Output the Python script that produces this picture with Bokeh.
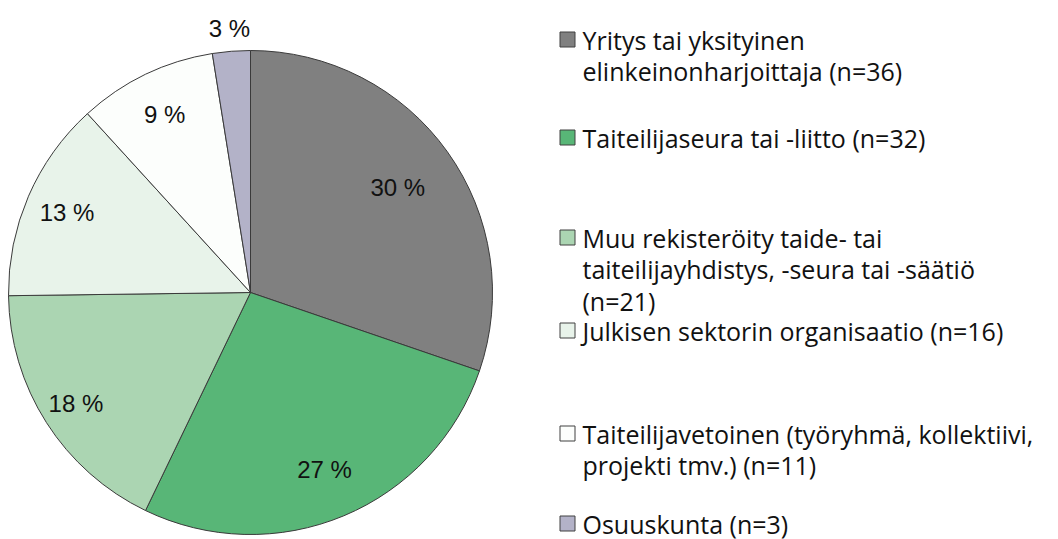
import math
from bokeh.plotting import figure
from bokeh.models import Range1d, ColumnDataSource
from bokeh.core.properties import value
from bokeh.embed import file_html
from bokeh.resources import INLINE

categories = [
    "Yritys tai yksityinen\nelinkeinonharjoittaja (n=36)",
    "Taiteilijaseura tai -liitto (n=32)",
    "Muu rekisteröity taide- tai\ntaiteilijayhdistys, -seura tai -säätiö\n(n=21)",
    "Julkisen sektorin organisaatio (n=16)",
    "Taiteilijavetoinen (työryhmä, kollektiivi,\nprojekti tmv.) (n=11)",
    "Osuuskunta (n=3)",
]
counts = [36, 32, 21, 16, 11, 3]
colors = ["#808080", "#58b677", "#abd5b2", "#e8f3ea", "#fcfefc", "#b3b2c8"]

# layout (page pixel style constants)
W, H = 1058, 539
def px(x): return x
def py(y): return H - y

cx, cy, R = px(250), py(292), 242
label_r = [181, 192, 207, 200, 198, 265]
legend_mid = [39, 137, 237, 330, 433, 523]
line_h = 31.5
font_px = 25

total = sum(counts)
starts, ends, lx, ly, ltxt = [], [], [], [], []
acc = 0.0
for i, c in enumerate(counts):
    a0 = math.pi / 2 - 2 * math.pi * acc / total
    a1 = math.pi / 2 - 2 * math.pi * (acc + c) / total
    starts.append(a0); ends.append(a1)
    mid = (a0 + a1) / 2
    lx.append(cx + label_r[i] * math.cos(mid))
    ly.append(cy + label_r[i] * math.sin(mid))
    ltxt.append(f"{round(100 * c / total)} %")
    acc += c

p = figure(width=W, height=H, output_backend="svg", toolbar_location=None,
           x_range=Range1d(0, W), y_range=Range1d(0, H), min_border=0)
p.axis.visible = False
p.grid.visible = False
p.outline_line_color = None
p.background_fill_color = "white"

src = ColumnDataSource(dict(s=starts, e=ends, c=colors))
p.wedge(x=cx, y=cy, radius=R, start_angle="s", end_angle="e", direction="clock",
        fill_color="c", line_color="#3a3a3a", line_width=1, source=src)

p.text(x=lx, y=ly, text=ltxt, text_align="center", text_baseline="middle",
       text_font=value("Liberation Sans"), text_font_size="24px", text_color="#111111")

# legend
sq_x, sq_size, tx = px(567), 15, px(582)
t_x, t_y, t_s = [], [], []
for i, lab in enumerate(categories):
    for j, line in enumerate(lab.split("\n")):
        t_x.append(tx)
        t_y.append(py(legend_mid[i] + j * line_h))
        t_s.append(line)
p.rect(x=[sq_x] * len(colors), y=[py(v) for v in legend_mid], width=sq_size, height=sq_size,
       fill_color=colors, line_color="#404040", line_width=1)
p.text(x=t_x, y=t_y, text=t_s, text_align="left", text_baseline="middle",
       text_font=value("Open Sans"), text_font_size=f"{font_px}px", text_color="#111111")

open("out.html", "w").write(file_html(p, INLINE))
